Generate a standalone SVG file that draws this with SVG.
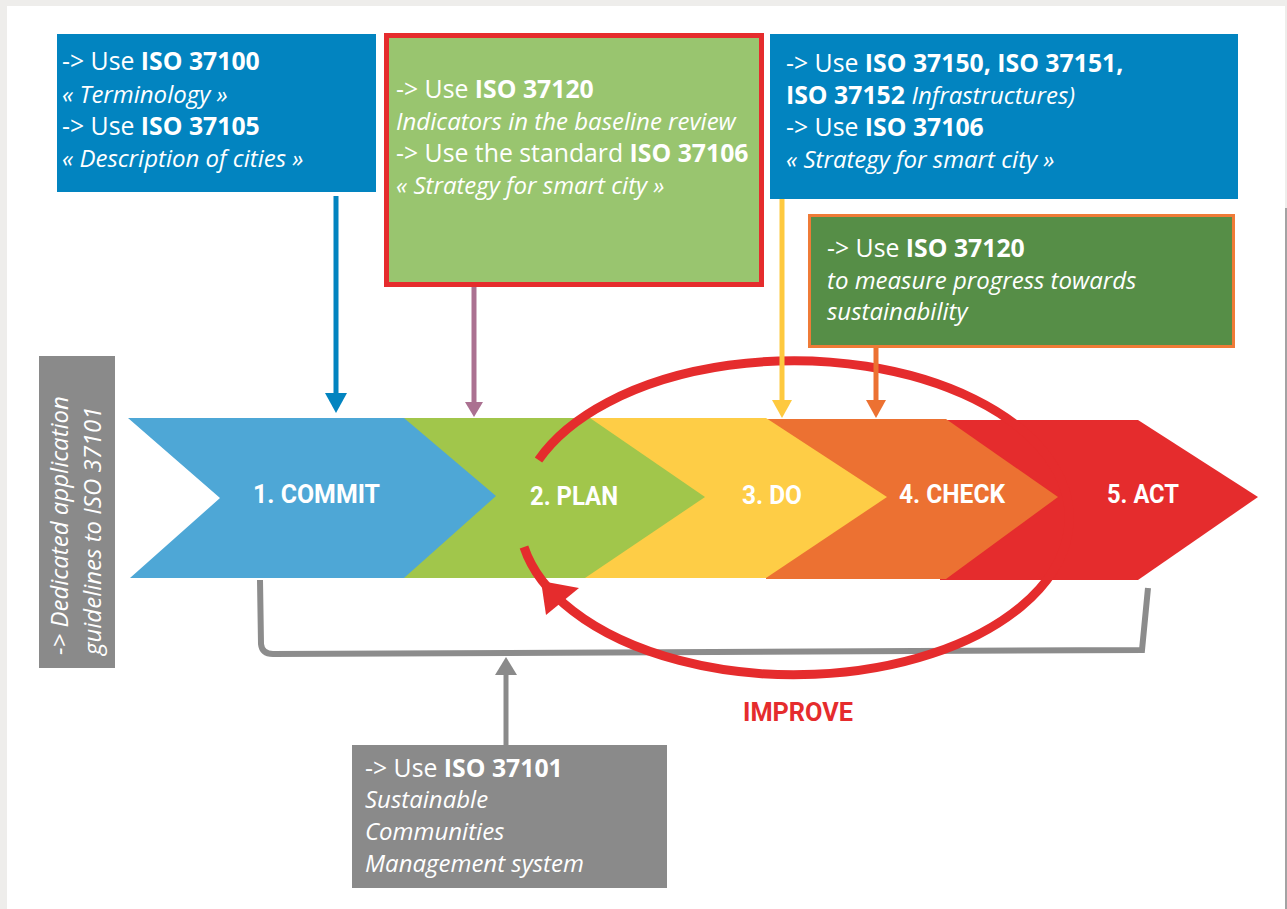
<svg xmlns="http://www.w3.org/2000/svg" width="1287" height="909" viewBox="0 0 1287 909">
  <style>
    .txt { font-family: "Open Sans", "Noto Sans", sans-serif; font-size: 24.8px; fill: #ffffff; }
    .b { font-weight: 700; }
    .i { font-style: italic; font-size: 24px; }
    .stage { font-family: Roboto, "Open Sans", sans-serif; font-weight: 700; font-size: 26px; fill: #ffffff; }
    .improve { font-family: Roboto, "Open Sans", sans-serif; font-weight: 700; font-size: 26px; fill: #e52c2d; }
    .conn { fill: none; stroke-width: 5; }
  </style>
  <defs>
    <marker id="head-blue" markerUnits="userSpaceOnUse" markerWidth="20" markerHeight="22" viewBox="0 0 20 22" refX="0" refY="11" orient="auto">
      <path d="M0,0 L20,11 L0,22 z" fill="#0284c0"/>
    </marker>
    <marker id="head-mauve" markerUnits="userSpaceOnUse" markerWidth="15" markerHeight="18" viewBox="0 0 15 18" refX="0" refY="9" orient="auto">
      <path d="M0,0 L15,9 L0,18 z" fill="#ab7191"/>
    </marker>
    <marker id="head-yellow" markerUnits="userSpaceOnUse" markerWidth="18" markerHeight="20" viewBox="0 0 18 20" refX="0" refY="10" orient="auto">
      <path d="M0,0 L18,10 L0,20 z" fill="#fec93f"/>
    </marker>
    <marker id="head-orange" markerUnits="userSpaceOnUse" markerWidth="18" markerHeight="20" viewBox="0 0 18 20" refX="0" refY="10" orient="auto">
      <path d="M0,0 L18,10 L0,20 z" fill="#ec7132"/>
    </marker>
    <marker id="head-gray" markerUnits="userSpaceOnUse" markerWidth="18" markerHeight="22" viewBox="0 0 18 22" refX="0" refY="11" orient="auto">
      <path d="M0,0 L18,11 L0,22 z" fill="#8a8a8a"/>
    </marker>
  </defs>

  <!-- page frame -->
  <rect x="0" y="0" width="1287" height="909" fill="#eeedeb"/>
  <rect x="7" y="6" width="1278" height="903" fill="#ffffff"/>
  <rect x="1285" y="208" width="2" height="701" fill="#a3a3a3"/>

  <!-- bracket joining all stages -->
  <path d="M260 580 L261 644 Q262 654 273 654 L1142 650 L1148 588" fill="none" stroke="#8c8c8c" stroke-width="6" stroke-linejoin="miter"/>

  <!-- process chevrons, back to front -->
  <g id="stage-act">
    <polygon points="940,420 1138,420 1258,497 1138,580 940,580" fill="#e52c2d"/>
    <text class="stage" x="1107" y="503" textLength="72" lengthAdjust="spacingAndGlyphs">5. ACT</text>
  </g>
  <g id="stage-check">
    <polygon points="766,419 946,419 1058,497 946,579 766,579" fill="#ec7132"/>
    <text class="stage" x="899" y="503" textLength="106" lengthAdjust="spacingAndGlyphs">4. CHECK</text>
  </g>
  <g id="stage-do">
    <polygon points="585,418 766,418 887,497 766,578 585,578" fill="#fecd46"/>
    <text class="stage" x="742" y="504" textLength="60" lengthAdjust="spacingAndGlyphs">3. DO</text>
  </g>
  <g id="stage-plan">
    <polygon points="404,418 590,418 705,497 585,578 404,578" fill="#a1c64b"/>
    <text class="stage" x="530" y="505" textLength="88" lengthAdjust="spacingAndGlyphs">2. PLAN</text>
  </g>
  <g id="stage-commit">
    <polygon points="128,418 404,418 496,496 404,578 130,578 220,498" fill="#4ea7d6"/>
    <text class="stage" x="253" y="503" textLength="127" lengthAdjust="spacingAndGlyphs">1. COMMIT</text>
  </g>

  <!-- improvement loop -->
  <g id="improve-loop">
    <path d="M538.5 460 A275 157 0 1 1 524 547" fill="none" stroke="#e52c2d" stroke-width="9"/>
    <polygon points="541,581 579,588 546,615" fill="#e52c2d"/>
    <text class="improve" x="743" y="721" textLength="110" lengthAdjust="spacingAndGlyphs">IMPROVE</text>
  </g>

  <!-- note boxes -->
  <g id="note-37100">
    <rect x="57" y="34" width="319" height="158" fill="#0284c0"/>
    <text class="txt" x="62" y="70">-&gt; Use <tspan class="b">ISO 37100</tspan></text>
    <text class="txt i" x="62" y="102.5">« Terminology »</text>
    <text class="txt" x="62" y="135">-&gt; Use <tspan class="b">ISO 37105</tspan></text>
    <text class="txt i" x="62" y="167">« Description of cities »</text>
  </g>

  <g id="note-37120-plan">
    <rect x="386.5" y="35.5" width="375" height="249" fill="#99c56f" stroke="#e52c2d" stroke-width="5"/>
    <text class="txt" x="396" y="98">-&gt; Use <tspan class="b">ISO 37120</tspan></text>
    <text class="txt i" x="396" y="130">Indicators in the baseline review</text>
    <text class="txt" x="396" y="162">-&gt; Use the standard <tspan class="b">ISO 37106</tspan></text>
    <text class="txt i" x="396" y="194">« Strategy for smart city »</text>
  </g>

  <g id="note-37150">
    <rect x="770" y="34" width="468" height="165" fill="#0284c0"/>
    <text class="txt" x="786" y="72">-&gt; Use <tspan class="b">ISO 37150, ISO 37151,</tspan></text>
    <text class="txt" x="786" y="104"><tspan class="b">ISO 37152</tspan> <tspan class="i">Infrastructures)</tspan></text>
    <text class="txt" x="786" y="136">-&gt; Use <tspan class="b">ISO 37106</tspan></text>
    <text class="txt i" x="786" y="168">« Strategy for smart city »</text>
  </g>

  <g id="note-37120-check">
    <rect x="809.5" y="215.5" width="424" height="131" fill="#568e47" stroke="#ef7b37" stroke-width="3"/>
    <text class="txt" x="827" y="257">-&gt; Use <tspan class="b">ISO 37120</tspan></text>
    <text class="txt i" x="827" y="289">to measure progress towards</text>
    <text class="txt i" x="827" y="320">sustainability</text>
  </g>

  <g id="note-37101-guidelines">
    <rect x="39" y="356" width="76" height="312" fill="#8a8a8a"/>
    <text class="txt i" transform="translate(68,655) rotate(-90)">-&gt; Dedicated application</text>
    <text class="txt i" transform="translate(101,655) rotate(-90)">guidelines to ISO 37101</text>
  </g>

  <g id="note-37101">
    <rect x="352" y="745" width="315" height="143" fill="#8a8a8a"/>
    <text class="txt" x="365" y="777">-&gt; Use <tspan class="b">ISO 37101</tspan></text>
    <text class="txt i" x="365" y="808">Sustainable</text>
    <text class="txt i" x="365" y="840">Communities</text>
    <text class="txt i" x="365" y="872">Management system</text>
  </g>

  <!-- connectors -->
  <g id="connectors">
    <line class="conn" x1="336" y1="196" x2="336" y2="393" stroke="#0284c0" marker-end="url(#head-blue)"/>
    <line class="conn" x1="474" y1="287" x2="474" y2="402" stroke="#ab7191" marker-end="url(#head-mauve)"/>
    <line class="conn" x1="782" y1="199" x2="782" y2="400" stroke="#fec93f" marker-end="url(#head-yellow)"/>
    <line class="conn" x1="876" y1="348" x2="876" y2="400" stroke="#ec7132" marker-end="url(#head-orange)"/>
    <line class="conn" x1="506" y1="745" x2="506" y2="675" stroke="#8a8a8a" marker-end="url(#head-gray)"/>
  </g>
</svg>
